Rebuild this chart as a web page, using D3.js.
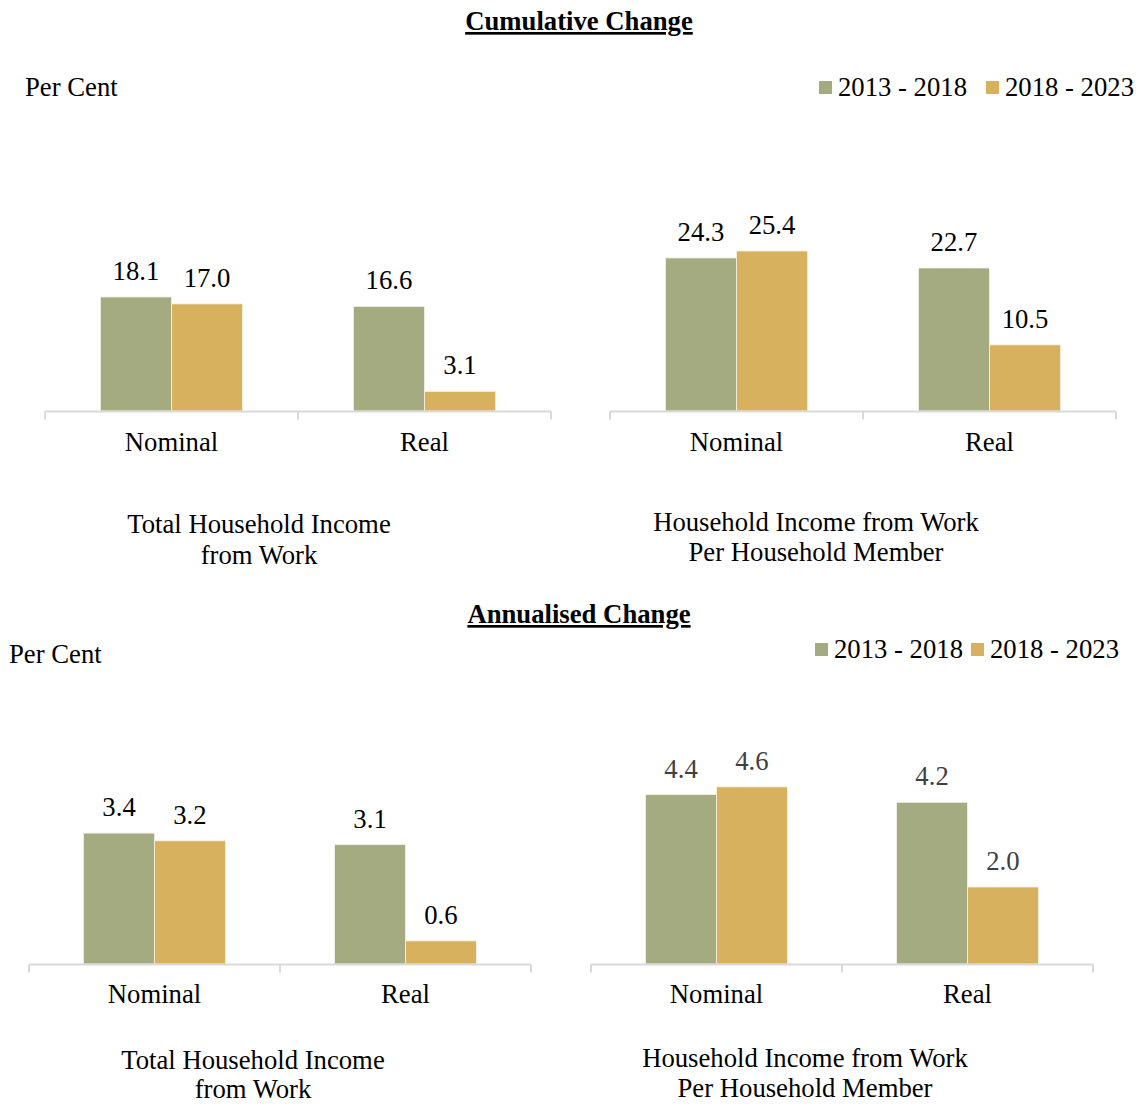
<!DOCTYPE html>
<html>
<head>
<meta charset="utf-8">
<script src="https://cdn.jsdelivr.net/npm/d3@7"></script>
<style>
  html, body { margin: 0; padding: 0; background: #fff; }
  svg text { font-family: "Liberation Serif", "Times New Roman", serif; }
</style>
</head>
<body>
<svg id="chart" width="1142" height="1104"></svg>
<script>
// ---- Data ----
const categories = ["Nominal", "Real"];
const seriesNames = ["2013 - 2018", "2018 - 2023"];
const seriesColors = ["#A4AB80", "#D8B15E"];

const cumTotal_2013_2018 = [18.1, 16.6];
const cumTotal_2018_2023 = [17.0, 3.1];
const cumPerMember_2013_2018 = [24.3, 22.7];
const cumPerMember_2018_2023 = [25.4, 10.5];

const annTotal_2013_2018 = [3.4, 3.1];
const annTotal_2018_2023 = [3.2, 0.6];
const annPerMember_2013_2018 = [4.4, 4.2];
const annPerMember_2018_2023 = [4.6, 2.0];

const titles = ["Cumulative Change", "Annualised Change"];
const yUnit = "Per Cent";
const panelTitles = [
  ["Total Household Income", "from Work"],
  ["Household Income from Work", "Per Household Member"]
];

// ---- Drawing ----
const svg = d3.select("#chart");
const FS = 26.7;
const OFF = 8;

function drawPanel(cfg) {
  const g = svg.append("g");
  const x = d3.scaleBand().domain(categories).range([cfg.x0, cfg.x1]).paddingInner(0).paddingOuter(0);
  const xs = d3.scaleBand().domain(seriesNames).range([0, x.bandwidth()]).paddingInner(0).paddingOuter(cfg.outerPad);
  const y = d3.scaleLinear().domain(cfg.yDomain).range([cfg.axisY, cfg.axisY - cfg.yPx]);

  const rows = [];
  categories.forEach((c, i) => {
    cfg.series.forEach((arr, s) => rows.push({ cat: c, ser: seriesNames[s], v: arr[i], s }));
  });

  g.selectAll("rect.bar").data(rows).join("rect")
    .attr("class", "bar")
    .attr("x", d => x(d.cat) + xs(d.ser))
    .attr("width", xs.bandwidth())
    .attr("y", d => y(d.v))
    .attr("height", d => y(0) - y(d.v))
    .attr("fill", d => seriesColors[d.s])
    .attr("stroke", "#F4F1E6")
    .attr("stroke-width", 0.8);

  g.selectAll("text.val").data(rows).join("text")
    .attr("class", "val")
    .attr("x", d => x(d.cat) + xs(d.ser) + xs.bandwidth() / 2)
    .attr("y", d => y(d.v) - 17)
    .attr("text-anchor", "middle")
    .attr("font-size", FS)
    .attr("fill", cfg.valColor)
    .text(d => d.v.toFixed(1));

  const axisY = cfg.axisY + 0.5;
  g.append("line")
    .attr("x1", cfg.x0).attr("x2", cfg.x1)
    .attr("y1", axisY).attr("y2", axisY)
    .attr("stroke", "#D9D9D9").attr("stroke-width", 2);
  const tickXs = categories.map(c => x(c)).concat([x(categories[categories.length - 1]) + x.bandwidth()]);
  g.selectAll("line.tick").data(tickXs).join("line")
    .attr("class", "tick")
    .attr("x1", d => d).attr("x2", d => d)
    .attr("y1", axisY).attr("y2", axisY + 8)
    .attr("stroke", "#D9D9D9").attr("stroke-width", 2);

  g.selectAll("text.cat").data(categories).join("text")
    .attr("class", "cat")
    .attr("x", d => x(d) + x.bandwidth() / 2)
    .attr("y", cfg.catY + OFF)
    .attr("text-anchor", "middle")
    .attr("font-size", FS)
    .attr("fill", "#000")
    .text(d => d);

  g.selectAll("text.ptitle").data(cfg.title).join("text")
    .attr("class", "ptitle")
    .attr("x", cfg.titleX)
    .attr("y", (d, i) => cfg.titleY[i] + OFF)
    .attr("text-anchor", "middle")
    .attr("font-size", FS)
    .attr("fill", "#000")
    .text(d => d);
}

function drawHeader(title, titleY, unitX, unitY, legX, legY) {
  svg.append("text")
    .attr("x", 579).attr("y", titleY)
    .attr("text-anchor", "middle")
    .attr("font-size", FS).attr("font-weight", "bold")
    .attr("text-decoration", "underline")
    .attr("fill", "#000")
    .text(title);
  svg.append("text")
    .attr("x", unitX).attr("y", unitY + OFF)
    .attr("font-size", FS).attr("fill", "#000")
    .text(yUnit);
  seriesNames.forEach((s, i) => {
    svg.append("rect")
      .attr("x", legX[i]).attr("y", legY - 6.5)
      .attr("width", 13).attr("height", 13)
      .attr("fill", seriesColors[i]);
    svg.append("text")
      .attr("x", legX[i] + 19).attr("y", legY + OFF)
      .attr("font-size", FS).attr("fill", "#000")
      .text(s);
  });
}

drawHeader(titles[0], 30, 25, 88, [819, 986], 87.5);
drawHeader(titles[1], 623, 9, 655, [815, 971], 649.5);

drawPanel({ x0: 45, x1: 551, axisY: 411, yDomain: [0, 30], yPx: 189, outerPad: 0.78,
  series: [cumTotal_2013_2018, cumTotal_2018_2023], valColor: "#000",
  catY: 443, title: panelTitles[0], titleX: 259, titleY: [525, 556] });
drawPanel({ x0: 610, x1: 1116, axisY: 411, yDomain: [0, 30], yPx: 189, outerPad: 0.78,
  series: [cumPerMember_2013_2018, cumPerMember_2018_2023], valColor: "#000",
  catY: 443, title: panelTitles[1], titleX: 816, titleY: [523, 553] });
drawPanel({ x0: 29, x1: 531, axisY: 964, yDomain: [0, 5], yPx: 192.5, outerPad: 0.77,
  series: [annTotal_2013_2018, annTotal_2018_2023], valColor: "#000",
  catY: 995, title: panelTitles[0], titleX: 253, titleY: [1061, 1090] });
drawPanel({ x0: 591, x1: 1093, axisY: 964, yDomain: [0, 5], yPx: 192.5, outerPad: 0.77,
  series: [annPerMember_2013_2018, annPerMember_2018_2023], valColor: "#404040",
  catY: 995, title: panelTitles[1], titleX: 805, titleY: [1059, 1089] });
</script>
</body>
</html>
